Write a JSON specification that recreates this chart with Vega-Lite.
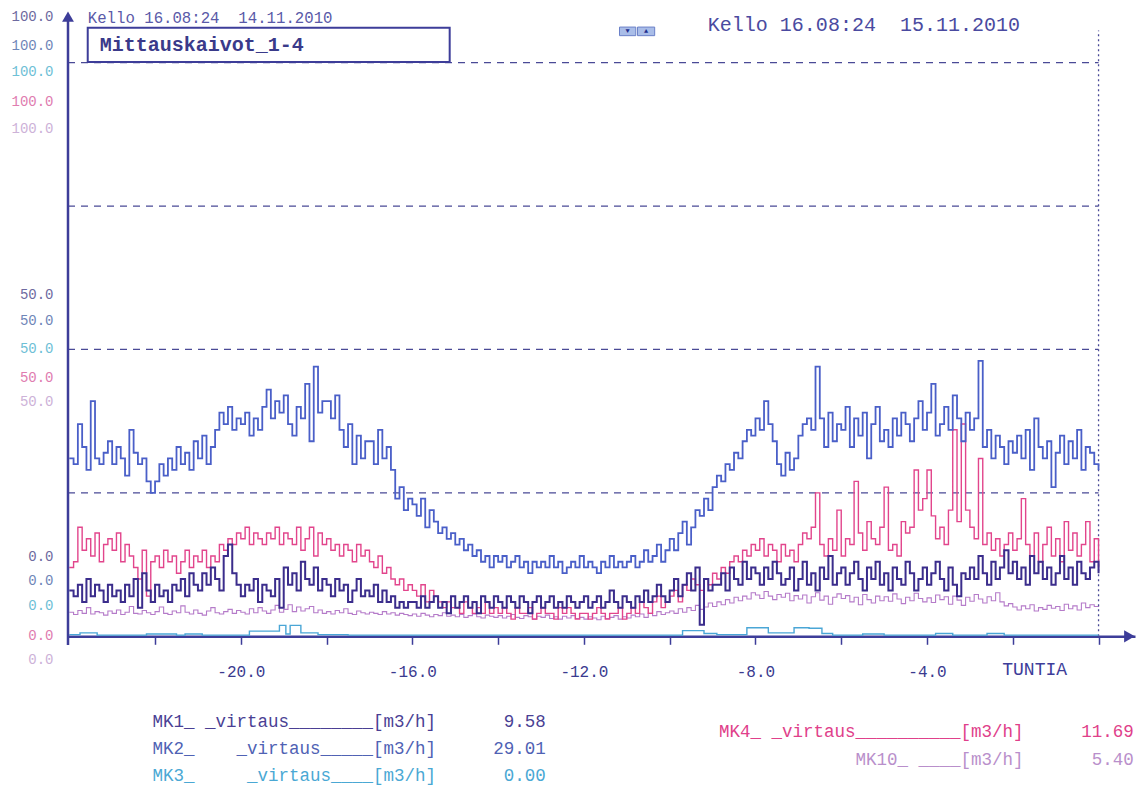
{
"$schema":"https://vega.github.io/schema/vega-lite/v6.json",
"width":1067,"height":654,"autosize":"none",
"padding":{"left":68,"top":11,"right":6,"bottom":129},
"background":"white",
"config":{"view":{"stroke":null},"font":"Liberation Mono","text":{"font":"Liberation Mono"}},
"datasets":{
"s":[
{"t":-24,"a":8,"b":31,"d":12,"e":4.2},{"t":-23.9,"a":7,"b":30,"d":13,"e":3.8},{"t":-23.8,"a":9,"b":37,"d":19,"e":4.5},{"t":-23.7,"a":6,"b":33,"d":15,"e":4},{"t":-23.6,"a":10,"b":29,"d":17,"e":5},{"t":-23.5,"a":7,"b":41,"d":14,"e":3.9},{"t":-23.4,"a":9,"b":31,"d":18,"e":4.3},{"t":-23.3,"a":8,"b":30,"d":13,"e":4.1},{"t":-23.2,"a":6,"b":32,"d":16,"e":3.7},{"t":-23.1,"a":9,"b":34,"d":17,"e":4.4},
{"t":-23,"a":7,"b":30,"d":15,"e":4},{"t":-22.9,"a":8,"b":33,"d":18,"e":4.6},{"t":-22.8,"a":6,"b":31,"d":13,"e":3.8},{"t":-22.7,"a":9,"b":28,"d":16,"e":4.2},{"t":-22.6,"a":7,"b":36,"d":14,"e":5.2},{"t":-22.5,"a":10,"b":32,"d":12,"e":4},{"t":-22.4,"a":5,"b":30,"d":10,"e":3.9},{"t":-22.3,"a":11,"b":31,"d":15,"e":4.5},{"t":-22.2,"a":8,"b":27,"d":7,"e":4.1},{"t":-22.1,"a":6,"b":25,"d":13,"e":3.8},
{"t":-22,"a":9,"b":27,"d":14,"e":4.3},{"t":-21.9,"a":7,"b":30,"d":12,"e":5.1},{"t":-21.8,"a":8,"b":28,"d":15,"e":4},{"t":-21.7,"a":6,"b":31,"d":13,"e":3.8},{"t":-21.6,"a":9,"b":29,"d":14,"e":4.4},{"t":-21.5,"a":8,"b":33,"d":11,"e":4.1},{"t":-21.4,"a":10,"b":30,"d":13,"e":5.3},{"t":-21.3,"a":7,"b":32,"d":15,"e":4.2},{"t":-21.2,"a":11,"b":29,"d":12,"e":3.9},{"t":-21.1,"a":9,"b":34,"d":14,"e":4.6},
{"t":-21,"a":8,"b":31,"d":13,"e":4},{"t":-20.9,"a":11,"b":35,"d":15,"e":3.7},{"t":-20.8,"a":9,"b":30,"d":12,"e":4.4},{"t":-20.7,"a":12,"b":33,"d":14,"e":5},{"t":-20.6,"a":10,"b":36,"d":13,"e":4.1},{"t":-20.5,"a":8,"b":39,"d":16,"e":3.9},{"t":-20.4,"a":14,"b":37,"d":15,"e":4.3},{"t":-20.3,"a":16,"b":40,"d":17,"e":4.7},{"t":-20.2,"a":11,"b":36,"d":16,"e":4},{"t":-20.1,"a":9,"b":38,"d":18,"e":4.5},
{"t":-20,"a":7,"b":37,"d":17,"e":4.2},{"t":-19.9,"a":9,"b":39,"d":19,"e":3.9},{"t":-19.8,"a":8,"b":35,"d":16,"e":4.8},{"t":-19.7,"a":10,"b":38,"d":18,"e":4.1},{"t":-19.6,"a":6,"b":36,"d":17,"e":5},{"t":-19.5,"a":9,"b":40,"d":16,"e":4.4},{"t":-19.4,"a":8,"b":43,"d":18,"e":4},{"t":-19.3,"a":7,"b":38,"d":17,"e":4.6},{"t":-19.2,"a":10,"b":41,"d":19,"e":5.4},{"t":-19.1,"a":5,"b":39,"d":16,"e":4.2},
{"t":-19,"a":12,"b":42,"d":18,"e":4.7},{"t":-18.9,"a":9,"b":37,"d":17,"e":5.5},{"t":-18.8,"a":11,"b":35,"d":16,"e":4.3},{"t":-18.7,"a":8,"b":40,"d":19,"e":5.1},{"t":-18.6,"a":13,"b":38,"d":15,"e":4.4},{"t":-18.5,"a":10,"b":44,"d":17,"e":4.8},{"t":-18.4,"a":9,"b":34,"d":19,"e":5.2},{"t":-18.3,"a":12,"b":47,"d":14,"e":4.1},{"t":-18.2,"a":8,"b":39,"d":18,"e":4.6},{"t":-18.1,"a":10,"b":41,"d":16,"e":4},
{"t":-18,"a":9,"b":41,"d":17,"e":4.3},{"t":-17.9,"a":7,"b":38,"d":15,"e":3.9},{"t":-17.8,"a":10,"b":42,"d":16,"e":4.5},{"t":-17.7,"a":8,"b":36,"d":14,"e":4.1},{"t":-17.6,"a":9,"b":33,"d":16,"e":4.8},{"t":-17.5,"a":6,"b":37,"d":15,"e":4},{"t":-17.4,"a":8,"b":30,"d":13,"e":3.8},{"t":-17.3,"a":10,"b":35,"d":16,"e":4.4},{"t":-17.2,"a":7,"b":31,"d":14,"e":4.1},{"t":-17.1,"a":8,"b":34,"d":15,"e":3.9},
{"t":-17,"a":7,"b":34,"d":13,"e":4.2},{"t":-16.9,"a":9,"b":30,"d":12,"e":4},{"t":-16.8,"a":6,"b":36,"d":14,"e":3.8},{"t":-16.7,"a":8,"b":31,"d":11,"e":4.3},{"t":-16.6,"a":6,"b":33,"d":12,"e":3.9},{"t":-16.5,"a":7,"b":29,"d":10,"e":4.1},{"t":-16.4,"a":5,"b":24,"d":9,"e":3.7},{"t":-16.3,"a":6,"b":26,"d":10,"e":4},{"t":-16.2,"a":5,"b":22,"d":8,"e":3.8},{"t":-16.1,"a":6,"b":24,"d":9,"e":3.6},
{"t":-16,"a":6,"b":23,"d":8,"e":3.9},{"t":-15.9,"a":5,"b":21,"d":7,"e":3.5},{"t":-15.8,"a":7,"b":24,"d":9,"e":4},{"t":-15.7,"a":5,"b":19,"d":6,"e":3.7},{"t":-15.6,"a":6,"b":22,"d":8,"e":3.4},{"t":-15.5,"a":7,"b":20,"d":7,"e":3.8},{"t":-15.4,"a":5,"b":18,"d":6,"e":3.6},{"t":-15.3,"a":6,"b":19,"d":5,"e":4.1},{"t":-15.2,"a":4,"b":17,"d":6,"e":3.5},{"t":-15.1,"a":7,"b":18,"d":5,"e":3.7},
{"t":-15,"a":5,"b":16,"d":5,"e":3.4},{"t":-14.9,"a":6,"b":17,"d":4,"e":3.8},{"t":-14.8,"a":7,"b":15,"d":6,"e":3.3},{"t":-14.7,"a":5,"b":16,"d":5,"e":3.6},{"t":-14.6,"a":6,"b":14,"d":4,"e":3.9},{"t":-14.5,"a":4,"b":15,"d":5,"e":3.4},{"t":-14.4,"a":7,"b":13,"d":4,"e":3.2},{"t":-14.3,"a":6,"b":14,"d":6,"e":3.7},{"t":-14.2,"a":5,"b":12,"d":4,"e":3.5},{"t":-14.1,"a":7,"b":14,"d":5,"e":3.3},
{"t":-14,"a":6,"b":13,"d":4,"e":3.6},{"t":-13.9,"a":5,"b":14,"d":5,"e":3.2},{"t":-13.8,"a":7,"b":12,"d":4,"e":3.5},{"t":-13.7,"a":6,"b":13,"d":3,"e":3.8},{"t":-13.6,"a":5,"b":14,"d":5,"e":3.3},{"t":-13.5,"a":7,"b":12,"d":4,"e":3.1},{"t":-13.4,"a":6,"b":13,"d":4,"e":3.6},{"t":-13.3,"a":4,"b":11,"d":5,"e":3.4},{"t":-13.2,"a":6,"b":13,"d":3,"e":3},{"t":-13.1,"a":7,"b":12,"d":4,"e":3.5},
{"t":-13,"a":5,"b":13,"d":5,"e":3.3},{"t":-12.9,"a":6,"b":12,"d":4,"e":3.7},{"t":-12.8,"a":7,"b":14,"d":4,"e":3.1},{"t":-12.7,"a":5,"b":12,"d":3,"e":3.4},{"t":-12.6,"a":6,"b":13,"d":5,"e":3},{"t":-12.5,"a":5,"b":11,"d":4,"e":3.5},{"t":-12.4,"a":7,"b":12,"d":5,"e":3.2},{"t":-12.3,"a":6,"b":13,"d":4,"e":3.6},{"t":-12.2,"a":5,"b":12,"d":3,"e":3.1},{"t":-12.1,"a":6,"b":14,"d":4,"e":3.3},
{"t":-12,"a":7,"b":12,"d":4,"e":3},{"t":-11.9,"a":5,"b":13,"d":3,"e":3.4},{"t":-11.8,"a":6,"b":12,"d":4,"e":3.2},{"t":-11.7,"a":7,"b":11,"d":5,"e":2.9},{"t":-11.6,"a":5,"b":13,"d":4,"e":3.5},{"t":-11.5,"a":6,"b":12,"d":3,"e":3.1},{"t":-11.4,"a":8,"b":14,"d":4,"e":3.3},{"t":-11.3,"a":6,"b":12,"d":4,"e":3.6},{"t":-11.2,"a":5,"b":13,"d":5,"e":3},{"t":-11.1,"a":7,"b":12,"d":3,"e":3.4},
{"t":-11,"a":6,"b":13,"d":4,"e":3.2},{"t":-10.9,"a":5,"b":14,"d":5,"e":3.7},{"t":-10.8,"a":7,"b":12,"d":4,"e":3.4},{"t":-10.7,"a":6,"b":13,"d":6,"e":3.9},{"t":-10.6,"a":8,"b":15,"d":5,"e":3.3},{"t":-10.5,"a":6,"b":13,"d":4,"e":4},{"t":-10.4,"a":7,"b":14,"d":6,"e":3.6},{"t":-10.3,"a":9,"b":16,"d":7,"e":4.3},{"t":-10.2,"a":7,"b":13,"d":5,"e":3.8},{"t":-10.1,"a":6,"b":15,"d":6,"e":4.1},
{"t":-10,"a":8,"b":17,"d":7,"e":4.4},{"t":-9.9,"a":10,"b":15,"d":8,"e":4},{"t":-9.8,"a":7,"b":18,"d":6,"e":4.8},{"t":-9.7,"a":9,"b":20,"d":9,"e":4.2},{"t":-9.6,"a":11,"b":16,"d":8,"e":5},{"t":-9.5,"a":8,"b":19,"d":10,"e":4.5},{"t":-9.4,"a":12,"b":22,"d":9,"e":5.4},{"t":-9.3,"a":2,"b":21,"d":8,"e":4.7},{"t":-9.2,"a":10,"b":24,"d":10,"e":5.1},{"t":-9.1,"a":8,"b":22,"d":9,"e":5.8},
{"t":-9,"a":9,"b":26,"d":11,"e":5.2},{"t":-8.9,"a":9,"b":28,"d":10,"e":6},{"t":-8.8,"a":11,"b":27,"d":12,"e":5.5},{"t":-8.7,"a":8,"b":30,"d":11,"e":6.4},{"t":-8.6,"a":12,"b":29,"d":13,"e":5.8},{"t":-8.5,"a":10,"b":32,"d":14,"e":6.8},{"t":-8.4,"a":9,"b":31,"d":13,"e":6.2},{"t":-8.3,"a":13,"b":34,"d":15,"e":7},{"t":-8.2,"a":10,"b":36,"d":14,"e":6.5},{"t":-8.1,"a":12,"b":35,"d":16,"e":7.6},
{"t":-8,"a":11,"b":38,"d":15,"e":7.2},{"t":-7.9,"a":9,"b":36,"d":17,"e":6.6},{"t":-7.8,"a":12,"b":41,"d":14,"e":7.8},{"t":-7.7,"a":10,"b":37,"d":16,"e":7},{"t":-7.6,"a":13,"b":34,"d":15,"e":6.4},{"t":-7.5,"a":11,"b":30,"d":13,"e":7.3},{"t":-7.4,"a":9,"b":28,"d":16,"e":6.8},{"t":-7.3,"a":10,"b":32,"d":14,"e":7.5},{"t":-7.2,"a":12,"b":29,"d":15,"e":6.2},{"t":-7.1,"a":8,"b":31,"d":13,"e":7.1},
{"t":-7,"a":10,"b":35,"d":16,"e":6.5},{"t":-6.9,"a":13,"b":37,"d":18,"e":7.2},{"t":-6.8,"a":9,"b":38,"d":17,"e":5.8},{"t":-6.7,"a":11,"b":36,"d":19,"e":6.9},{"t":-6.6,"a":8,"b":47,"d":25,"e":7.6},{"t":-6.5,"a":12,"b":38,"d":16,"e":6.3},{"t":-6.4,"a":10,"b":33,"d":14,"e":7},{"t":-6.3,"a":14,"b":39,"d":17,"e":5.6},{"t":-6.2,"a":9,"b":34,"d":15,"e":6.8},{"t":-6.1,"a":11,"b":37,"d":22,"e":7.4},
{"t":-6,"a":12,"b":36,"d":14,"e":6.6},{"t":-5.9,"a":9,"b":40,"d":17,"e":7.1},{"t":-5.8,"a":11,"b":33,"d":16,"e":6},{"t":-5.7,"a":13,"b":38,"d":27,"e":6.8},{"t":-5.6,"a":10,"b":35,"d":18,"e":5.5},{"t":-5.5,"a":8,"b":39,"d":15,"e":7.3},{"t":-5.4,"a":12,"b":31,"d":20,"e":6.4},{"t":-5.3,"a":10,"b":37,"d":17,"e":5.8},{"t":-5.2,"a":13,"b":40,"d":16,"e":7},{"t":-5.1,"a":9,"b":34,"d":19,"e":6.2},
{"t":-5,"a":11,"b":36,"d":26,"e":6.9},{"t":-4.9,"a":8,"b":33,"d":15,"e":6.1},{"t":-4.8,"a":12,"b":38,"d":16,"e":7.4},{"t":-4.7,"a":10,"b":35,"d":14,"e":6.5},{"t":-4.6,"a":9,"b":39,"d":20,"e":5.7},{"t":-4.5,"a":13,"b":37,"d":18,"e":6.8},{"t":-4.4,"a":11,"b":34,"d":19,"e":6.2},{"t":-4.3,"a":8,"b":38,"d":29,"e":7.5},{"t":-4.2,"a":10,"b":41,"d":22,"e":6.6},{"t":-4.1,"a":12,"b":36,"d":24,"e":6},
{"t":-4,"a":9,"b":39,"d":29,"e":6.7},{"t":-3.9,"a":11,"b":44,"d":21,"e":5.9},{"t":-3.8,"a":13,"b":35,"d":17,"e":7.2},{"t":-3.7,"a":10,"b":37,"d":19,"e":6.4},{"t":-3.6,"a":8,"b":40,"d":16,"e":6.9},{"t":-3.5,"a":12,"b":36,"d":22,"e":5.6},{"t":-3.4,"a":9,"b":42,"d":36,"e":7},{"t":-3.3,"a":7,"b":38,"d":20,"e":6.3},{"t":-3.2,"a":11,"b":34,"d":37,"e":5.4},{"t":-3.1,"a":10,"b":39,"d":22,"e":6.8},
{"t":-3,"a":12,"b":36,"d":19,"e":6.1},{"t":-2.9,"a":10,"b":38,"d":17,"e":7.3},{"t":-2.8,"a":14,"b":48,"d":31,"e":6.5},{"t":-2.7,"a":11,"b":33,"d":16,"e":5.8},{"t":-2.6,"a":9,"b":36,"d":18,"e":6.9},{"t":-2.5,"a":13,"b":31,"d":15,"e":6.2},{"t":-2.4,"a":10,"b":35,"d":17,"e":7.6},{"t":-2.3,"a":12,"b":33,"d":14,"e":6},{"t":-2.2,"a":15,"b":30,"d":16,"e":5.3},{"t":-2.1,"a":11,"b":34,"d":18,"e":5.7},
{"t":-2,"a":13,"b":32,"d":15,"e":5.1},{"t":-1.9,"a":10,"b":35,"d":17,"e":4.6},{"t":-1.8,"a":12,"b":31,"d":24,"e":5.3},{"t":-1.7,"a":9,"b":36,"d":16,"e":4.8},{"t":-1.6,"a":14,"b":29,"d":14,"e":5.5},{"t":-1.5,"a":11,"b":38,"d":18,"e":4.4},{"t":-1.4,"a":13,"b":33,"d":13,"e":5},{"t":-1.3,"a":10,"b":31,"d":16,"e":4.7},{"t":-1.2,"a":12,"b":34,"d":19,"e":5.4},{"t":-1.1,"a":9,"b":26,"d":14,"e":4.9},
{"t":-1,"a":11,"b":32,"d":17,"e":5.2},{"t":-0.9,"a":14,"b":35,"d":13,"e":4.5},{"t":-0.8,"a":10,"b":30,"d":20,"e":5.6},{"t":-0.7,"a":12,"b":34,"d":15,"e":4.8},{"t":-0.6,"a":9,"b":31,"d":18,"e":5.3},{"t":-0.5,"a":13,"b":36,"d":14,"e":4.6},{"t":-0.4,"a":11,"b":29,"d":16,"e":5.8},{"t":-0.3,"a":10,"b":33,"d":20,"e":5},{"t":-0.2,"a":12,"b":32,"d":13,"e":5.5},{"t":-0.1,"a":13,"b":30,"d":17,"e":5.2},
{"t":0,"a":11,"b":29,"d":12,"e":5.4}
],
"m3":[
{"t":-24,"c":0.3},{"t":-23.75,"c":0.6},{"t":-23.35,"c":0.2},{"t":-22.2,"c":0.4},{"t":-21.5,"c":0.2},{"t":-21.3,"c":0.4},{"t":-20.9,"c":0.2},{"t":-19.8,"c":0.9},{"t":-19.1,"c":1.9},{"t":-18.95,"c":0.4},{"t":-18.85,"c":1.9},{"t":-18.6,"c":0.6},{"t":-18.2,"c":0.3},{"t":-17.5,"c":0.2},{"t":-9.7,"c":1.0},{"t":-9.2,"c":0.5},{"t":-8.9,"c":0.3},{"t":-8.2,"c":1.5},{"t":-7.7,"c":0.6},{"t":-7.1,"c":1.5},{"t":-6.75,"c":1.4},{"t":-6.45,"c":0.5},{"t":-6.2,"c":0.2},{"t":-5.5,"c":0.4},{"t":-5.0,"c":0.2},{"t":-3.8,"c":0.5},{"t":-3.4,"c":0.2},{"t":-2.6,"c":0.5},{"t":-2.2,"c":0.2},{"t":0,"c":0.2}
],
"grid":[{"g":25},{"g":50},{"g":75},{"g":100}]
},
"layer":[
{"data":{"name":"s"},"mark":{"type":"line","interpolate":"step-after","stroke":"#b57bc9","strokeWidth":1.1},
 "encoding":{
  "x":{"field":"t","type":"quantitative","scale":{"domain":[-24.03,0.85],"nice":false,"zero":false},
   "axis":{"title":null,"offset":-28.7,"values":[-22,-20,-18,-16,-14,-12,-10,-8,-6,-4,-2,0],
    "labelExpr":"(datum.value % 4 == 0 && datum.value != 0) ? '-' + format(abs(datum.value), '.1f') : ''",
    "grid":false,"domainColor":"#3d3d99","domainWidth":2.5,"tickColor":"#3d3d99","tickWidth":1.5,"tickSize":8,
    "labelColor":"#3a3a8f","labelFont":"Liberation Mono","labelFontSize":16,"labelPadding":19,"labelOverlap":false,"labelFlush":false}},
  "y":{"field":"e","type":"quantitative","scale":{"domain":[-5,109],"nice":false,"zero":false},
   "axis":{"title":null,"values":[108,103,98.4,93.2,88.5,59.5,55.1,50.1,45.2,41,14,9.8,5.4,0.2,-4],
    "labelExpr":"datum.value > 80 ? '100.0' : (datum.value > 30 ? '50.0' : '0.0')",
    "domain":false,"ticks":false,"tickSize":0,"grid":false,"labelPadding":15,"labelFont":"Liberation Mono","labelFontSize":14,"labelOverlap":false,"labelFlush":false,
    "labelColor":{"condition":[
      {"test":"indexof([108,59.5,14], datum.value) >= 0","value":"#6e6aa0"},
      {"test":"indexof([103,55.1,9.8], datum.value) >= 0","value":"#6f86b8"},
      {"test":"indexof([98.4,50.1,5.4], datum.value) >= 0","value":"#6ec0d6"},
      {"test":"indexof([93.2,45.2,0.2], datum.value) >= 0","value":"#e07cb0"}],"value":"#cdb2d8"}}}}},
{"data":{"name":"grid"},"mark":{"type":"rule","stroke":"#4a4a96","strokeWidth":1.3,"strokeDash":[7,6]},
 "encoding":{"x":{"datum":-24.03},"x2":{"datum":0},"y":{"field":"g","type":"quantitative"}}},
{"data":{"values":[{}]},"mark":{"type":"rule","stroke":"#4a4a96","strokeWidth":1.3,"strokeDash":[2,3]},
 "encoding":{"x":{"datum":0},"y":{"datum":0},"y2":{"datum":105.6}}},
{"data":{"name":"m3"},"mark":{"type":"line","interpolate":"step-after","stroke":"#4aa6d6","strokeWidth":1.4},
 "encoding":{"x":{"field":"t","type":"quantitative"},"y":{"field":"c","type":"quantitative"}}},
{"data":{"name":"s"},"mark":{"type":"line","interpolate":"step-after","stroke":"#e2458c","strokeWidth":1.4},
 "encoding":{"x":{"field":"t","type":"quantitative"},"y":{"field":"d","type":"quantitative"}}},
{"data":{"name":"s"},"mark":{"type":"line","interpolate":"step-after","stroke":"#3b2d8c","strokeWidth":2},
 "encoding":{"x":{"field":"t","type":"quantitative"},"y":{"field":"a","type":"quantitative"}}},
{"data":{"name":"s"},"mark":{"type":"line","interpolate":"step-after","stroke":"#4a5fc8","strokeWidth":1.8},
 "encoding":{"x":{"field":"t","type":"quantitative"},"y":{"field":"b","type":"quantitative"}}},
{"data":{"values":[{}]},"mark":{"type":"rule","stroke":"#3d3d99","strokeWidth":2.5},
 "encoding":{"x":{"datum":-24.03},"y":{"datum":-1.5},"y2":{"datum":108}}},
{"data":{"values":[{}]},"mark":{"type":"point","shape":"triangle-up","filled":true,"color":"#3d3d99","opacity":1,"size":140},
 "encoding":{"x":{"datum":-24.03},"y":{"datum":108}}},
{"data":{"values":[{}]},"mark":{"type":"point","shape":"triangle-right","filled":true,"color":"#3d3d99","opacity":1,"size":150},
 "encoding":{"x":{"datum":0.72},"y":{"datum":0}}},
{"data":{"values":[{}]},"mark":{"type":"rect","fillOpacity":0,"stroke":"#3d3d99","strokeWidth":2},
 "encoding":{"x":{"datum":-23.57},"x2":{"datum":-15.13},"y":{"datum":106.1},"y2":{"datum":100.1}}},
{"data":{"values":[{}]},"mark":{"type":"rect","fill":"#a9bde8","stroke":"#6a80c8","strokeWidth":1},
 "encoding":{"x":{"datum":-11.17},"x2":{"datum":-10.79},"y":{"datum":106.2},"y2":{"datum":104.7}}},
{"data":{"values":[{}]},"mark":{"type":"rect","fill":"#a9bde8","stroke":"#6a80c8","strokeWidth":1},
 "encoding":{"x":{"datum":-10.75},"x2":{"datum":-10.35},"y":{"datum":106.2},"y2":{"datum":104.7}}},
{"data":{"values":[{}]},"mark":{"type":"text","text":"▼","align":"center","baseline":"middle","fontSize":7,"color":"#1f2f8f"},
 "encoding":{"x":{"datum":-10.98},"y":{"datum":105.45}}},
{"data":{"values":[{}]},"mark":{"type":"text","text":"▲","align":"center","baseline":"middle","fontSize":7,"color":"#1f2f8f"},
 "encoding":{"x":{"datum":-10.55},"y":{"datum":105.45}}},
{"data":{"values":[{}]},"mark":{"type":"text","text":"Kello 16.08:24\u00a0\u00a014.11.2010","align":"left","baseline":"middle","fontSize":15.7,"color":"#5a5aa8"},
 "encoding":{"x":{"datum":-23.57},"y":{"datum":107.8}}},
{"data":{"values":[{}]},"mark":{"type":"text","text":"Mittauskaivot_1-4","align":"left","baseline":"middle","fontSize":20,"fontWeight":"bold","color":"#3a3a8a"},
 "encoding":{"x":{"datum":-23.29},"y":{"datum":103.1}}},
{"data":{"values":[{}]},"mark":{"type":"text","text":"Kello 16.08:24\u00a0\u00a015.11.2010","align":"left","baseline":"middle","fontSize":20,"color":"#4a4aa0"},
 "encoding":{"x":{"datum":-9.11},"y":{"datum":106.6}}},
{"data":{"values":[{}]},"mark":{"type":"text","text":"TUNTIA","align":"center","baseline":"middle","fontSize":18,"color":"#3d3d99"},
 "encoding":{"x":{"datum":-1.49},"y":{"datum":-5.84}}},
{"data":{"values":[{}]},"mark":{"type":"text","text":"MK1_\u00a0_virtaus________[m3/h]","align":"right","baseline":"middle","fontSize":17.5,"color":"#4a3f94"},
 "encoding":{"x":{"datum":-15.45},"y":{"datum":-14.9}}},
{"data":{"values":[{}]},"mark":{"type":"text","text":"9.58","align":"right","baseline":"middle","fontSize":17.5,"color":"#4a3f94"},
 "encoding":{"x":{"datum":-12.89},"y":{"datum":-14.9}}},
{"data":{"values":[{}]},"mark":{"type":"text","text":"MK2_\u00a0\u00a0\u00a0\u00a0_virtaus_____[m3/h]","align":"right","baseline":"middle","fontSize":17.5,"color":"#4f62b4"},
 "encoding":{"x":{"datum":-15.45},"y":{"datum":-19.6}}},
{"data":{"values":[{}]},"mark":{"type":"text","text":"29.01","align":"right","baseline":"middle","fontSize":17.5,"color":"#4f62b4"},
 "encoding":{"x":{"datum":-12.89},"y":{"datum":-19.6}}},
{"data":{"values":[{}]},"mark":{"type":"text","text":"MK3_\u00a0\u00a0\u00a0\u00a0\u00a0_virtaus____[m3/h]","align":"right","baseline":"middle","fontSize":17.5,"color":"#4aa8d4"},
 "encoding":{"x":{"datum":-15.45},"y":{"datum":-24.3}}},
{"data":{"values":[{}]},"mark":{"type":"text","text":"0.00","align":"right","baseline":"middle","fontSize":17.5,"color":"#4aa8d4"},
 "encoding":{"x":{"datum":-12.89},"y":{"datum":-24.3}}},
{"data":{"values":[{}]},"mark":{"type":"text","text":"MK4_\u00a0_virtaus__________[m3/h]","align":"right","baseline":"middle","fontSize":17.5,"color":"#e0408a"},
 "encoding":{"x":{"datum":-1.75},"y":{"datum":-16.6}}},
{"data":{"values":[{}]},"mark":{"type":"text","text":"11.69","align":"right","baseline":"middle","fontSize":17.5,"color":"#e0408a"},
 "encoding":{"x":{"datum":0.82},"y":{"datum":-16.6}}},
{"data":{"values":[{}]},"mark":{"type":"text","text":"MK10_\u00a0____[m3/h]","align":"right","baseline":"middle","fontSize":17.5,"color":"#b98fcb"},
 "encoding":{"x":{"datum":-1.75},"y":{"datum":-21.5}}},
{"data":{"values":[{}]},"mark":{"type":"text","text":"5.40","align":"right","baseline":"middle","fontSize":17.5,"color":"#b98fcb"},
 "encoding":{"x":{"datum":0.82},"y":{"datum":-21.5}}}
]
}
